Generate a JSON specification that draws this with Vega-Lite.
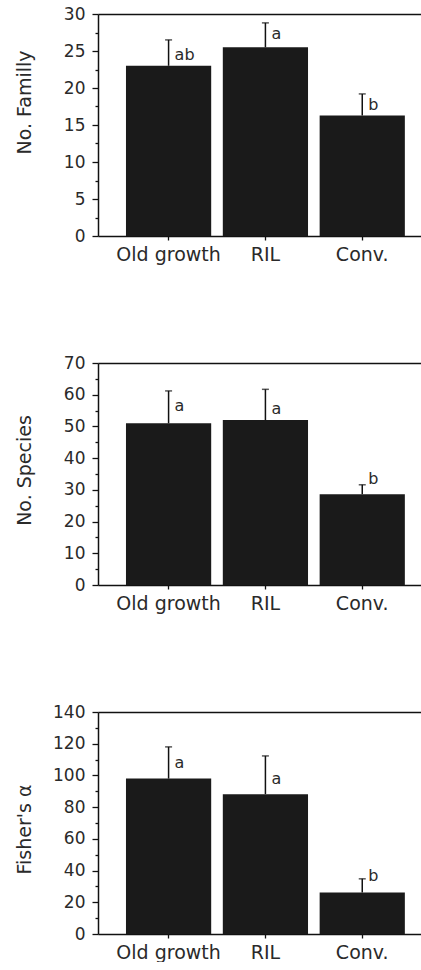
{
  "$schema": "https://vega.github.io/schema/vega-lite/v6.json",
  "padding": {"left": 14, "top": 5, "right": 0, "bottom": 0},
  "background": "white",
  "config": {
    "view": {"stroke": null},
    "font": "DejaVu Sans",
    "axis": {"domainColor": "#111", "domainWidth": 1.5, "tickColor": "#111", "tickWidth": 1.3, "labelColor": "#2a2a2a", "titleColor": "#2a2a2a", "labelFont": "DejaVu Sans", "titleFont": "DejaVu Sans", "titleFontWeight": "normal", "grid": false}
  },
  "datasets": {
    "family": [
      {"site": "Old growth", "mean": 23.0, "upper": 26.5, "lab": "ab", "lab_y": 23.8},
      {"site": "RIL", "mean": 25.5, "upper": 28.8, "lab": "a", "lab_y": 26.6},
      {"site": "Conv.", "mean": 16.3, "upper": 19.2, "lab": "b", "lab_y": 17.0}
    ],
    "species": [
      {"site": "Old growth", "mean": 51.0, "upper": 61.2, "lab": "a", "lab_y": 54.9},
      {"site": "RIL", "mean": 52.0, "upper": 61.7, "lab": "a", "lab_y": 53.9},
      {"site": "Conv.", "mean": 28.6, "upper": 31.6, "lab": "b", "lab_y": 32.0}
    ],
    "fisher": [
      {"site": "Old growth", "mean": 98.0, "upper": 118.0, "lab": "a", "lab_y": 104.7},
      {"site": "RIL", "mean": 88.2, "upper": 112.3, "lab": "a", "lab_y": 94.9},
      {"site": "Conv.", "mean": 26.2, "upper": 34.8, "lab": "b", "lab_y": 33.2}
    ]
  },
  "spacing": 127,
  "bounds": "flush",
  "vconcat": [
    {
      "data": {"name": "family"},
      "width": 324, "height": 222,
      "layer": [
        {"mark": {"type": "bar", "color": "#1a1a1a"},
         "encoding": {
           "x": {"field": "site", "type": "nominal", "sort": null,
                 "scale": {"paddingInner": 0.12, "paddingOuter": 0.233, "align": 0.62},
                 "axis": {"orient": "bottom", "title": null, "labelAngle": 0, "labelFontSize": 19, "tickSize": 4, "labelPadding": 5}},
           "y": {"field": "mean", "type": "quantitative", "scale": {"domain": [0, 30], "nice": false},
                 "axis": {"orient": "left", "title": "No. Familly", "values": [0, 5, 10, 15, 20, 25, 30], "tickSize": 6, "labelFontSize": 17, "labelPadding": 7, "titleFontSize": 19, "titleX": -64, "titleY": 88, "titleBaseline": "bottom"}}
         }},
        {"mark": {"type": "rule", "color": "#111", "strokeWidth": 1.5},
         "encoding": {
           "x": {"field": "site", "type": "nominal", "sort": null, "axis": {"orient": "top", "labels": false, "ticks": false, "title": null}},
           "y": {"field": "mean", "type": "quantitative", "axis": {"orient": "left", "values": [2.5, 7.5, 12.5, 17.5, 22.5, 27.5], "tickSize": 3, "labels": false, "domain": false, "title": null}},
           "y2": {"field": "upper"}
         }},
        {"mark": {"type": "tick", "color": "#111", "thickness": 1.5},
         "encoding": {
           "x": {"field": "site", "type": "nominal", "sort": null, "axis": null},
           "y": {"field": "upper", "type": "quantitative", "axis": null},
           "size": {"value": 7}
         }},
        {"mark": {"type": "text", "align": "left", "dx": 6, "fontSize": 16, "baseline": "alphabetic", "color": "#2a2a2a"},
         "encoding": {
           "x": {"field": "site", "type": "nominal", "sort": null, "axis": null},
           "y": {"field": "lab_y", "type": "quantitative", "axis": null},
           "text": {"field": "lab"}
         }}
      ],
      "resolve": {"axis": {"x": "independent", "y": "independent"}}
    },
    {
      "data": {"name": "species"},
      "width": 324, "height": 222,
      "layer": [
        {"mark": {"type": "bar", "color": "#1a1a1a"},
         "encoding": {
           "x": {"field": "site", "type": "nominal", "sort": null,
                 "scale": {"paddingInner": 0.12, "paddingOuter": 0.233, "align": 0.62},
                 "axis": {"orient": "bottom", "title": null, "labelAngle": 0, "labelFontSize": 19, "tickSize": 4, "labelPadding": 5}},
           "y": {"field": "mean", "type": "quantitative", "scale": {"domain": [0, 70], "nice": false},
                 "axis": {"orient": "left", "title": "No. Species", "values": [0, 10, 20, 30, 40, 50, 60, 70], "tickSize": 6, "labelFontSize": 17, "labelPadding": 7, "titleFontSize": 19, "titleX": -64, "titleY": 107, "titleBaseline": "bottom"}}
         }},
        {"mark": {"type": "rule", "color": "#111", "strokeWidth": 1.5},
         "encoding": {
           "x": {"field": "site", "type": "nominal", "sort": null, "axis": {"orient": "top", "labels": false, "ticks": false, "title": null}},
           "y": {"field": "mean", "type": "quantitative", "axis": {"orient": "left", "values": [5, 15, 25, 35, 45, 55, 65], "tickSize": 3, "labels": false, "domain": false, "title": null}},
           "y2": {"field": "upper"}
         }},
        {"mark": {"type": "tick", "color": "#111", "thickness": 1.5},
         "encoding": {
           "x": {"field": "site", "type": "nominal", "sort": null, "axis": null},
           "y": {"field": "upper", "type": "quantitative", "axis": null},
           "size": {"value": 7}
         }},
        {"mark": {"type": "text", "align": "left", "dx": 6, "fontSize": 16, "baseline": "alphabetic", "color": "#2a2a2a"},
         "encoding": {
           "x": {"field": "site", "type": "nominal", "sort": null, "axis": null},
           "y": {"field": "lab_y", "type": "quantitative", "axis": null},
           "text": {"field": "lab"}
         }}
      ],
      "resolve": {"axis": {"x": "independent", "y": "independent"}}
    },
    {
      "data": {"name": "fisher"},
      "width": 324, "height": 222,
      "layer": [
        {"mark": {"type": "bar", "color": "#1a1a1a"},
         "encoding": {
           "x": {"field": "site", "type": "nominal", "sort": null,
                 "scale": {"paddingInner": 0.12, "paddingOuter": 0.233, "align": 0.62},
                 "axis": {"orient": "bottom", "title": null, "labelAngle": 0, "labelFontSize": 19, "tickSize": 4, "labelPadding": 5}},
           "y": {"field": "mean", "type": "quantitative", "scale": {"domain": [0, 140], "nice": false},
                 "axis": {"orient": "left", "title": "Fisher's α", "values": [0, 20, 40, 60, 80, 100, 120, 140], "tickSize": 6, "labelFontSize": 17, "labelPadding": 7, "titleFontSize": 19, "titleX": -64, "titleY": 117, "titleBaseline": "bottom"}}
         }},
        {"mark": {"type": "rule", "color": "#111", "strokeWidth": 1.5},
         "encoding": {
           "x": {"field": "site", "type": "nominal", "sort": null, "axis": {"orient": "top", "labels": false, "ticks": false, "title": null}},
           "y": {"field": "mean", "type": "quantitative", "axis": {"orient": "left", "values": [10, 30, 50, 70, 90, 110, 130], "tickSize": 3, "labels": false, "domain": false, "title": null}},
           "y2": {"field": "upper"}
         }},
        {"mark": {"type": "tick", "color": "#111", "thickness": 1.5},
         "encoding": {
           "x": {"field": "site", "type": "nominal", "sort": null, "axis": null},
           "y": {"field": "upper", "type": "quantitative", "axis": null},
           "size": {"value": 7}
         }},
        {"mark": {"type": "text", "align": "left", "dx": 6, "fontSize": 16, "baseline": "alphabetic", "color": "#2a2a2a"},
         "encoding": {
           "x": {"field": "site", "type": "nominal", "sort": null, "axis": null},
           "y": {"field": "lab_y", "type": "quantitative", "axis": null},
           "text": {"field": "lab"}
         }}
      ],
      "resolve": {"axis": {"x": "independent", "y": "independent"}}
    }
  ]
}
